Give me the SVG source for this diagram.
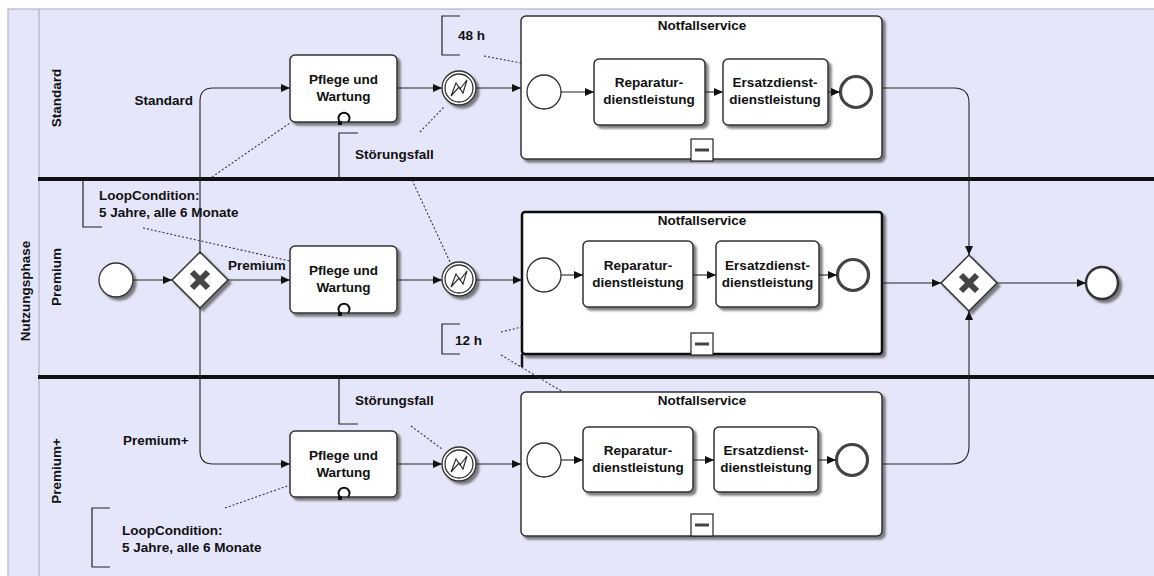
<svg xmlns="http://www.w3.org/2000/svg" width="1154" height="576" viewBox="0 0 1154 576">
<defs>
<style>
text{font-family:"Liberation Sans",Arial,sans-serif;font-weight:bold;font-size:13.5px;fill:#111}
.mid{text-anchor:middle}
.task{fill:#fff;stroke:#333;stroke-width:1.5}
.sp{fill:#fff;stroke:#333;stroke-width:1.5}
.ev{fill:#fff;stroke:#333;stroke-width:1.3}
.end{fill:#fff;stroke:#444;stroke-width:3.2}
.flow{fill:none;stroke:#222;stroke-width:1.1;marker-end:url(#ah)}
.assoc{fill:none;stroke:#333;stroke-width:1.1;stroke-dasharray:2,2}
.br{fill:none;stroke:#222;stroke-width:1.2}
.loop{fill:none;stroke:#111;stroke-width:2}
.gw{fill:#fff;stroke:#333;stroke-width:1.5}
.x{stroke:#444;stroke-width:6}
.div{stroke:#111;stroke-width:4}
</style>
<marker id="ah" viewBox="0 0 9 8" refX="9" refY="4" markerWidth="9" markerHeight="8" markerUnits="userSpaceOnUse" orient="auto"><path d="M0,0 L9,4 L0,8 z" fill="#111"/></marker>
<filter id="sh" x="-10%" y="-10%" width="130%" height="130%"><feDropShadow dx="3" dy="3" stdDeviation="0.8" flood-color="#555" flood-opacity="0.75"/></filter>
<g id="errsym"><circle r="17" class="ev"/><circle r="14" class="ev"/><path d="M-8,8 L-3,-5 L1,1 L8,-8 L4,5 L0,-1 Z" fill="#fff" stroke="#333" stroke-width="1.2"/></g>
<g id="collapse"><rect x="-11" y="-11" width="22" height="22" fill="#fff" stroke="#222" stroke-width="1.2"/><line x1="-7" y1="0" x2="7" y2="0" stroke="#444" stroke-width="3"/></g>
<g id="loopm"><path d="M-4,4 A5.5,5.5 0 1 1 4,4" class="loop"/><rect x="-6" y="3" width="4" height="4" fill="#111"/></g>
</defs>
<rect width="1154" height="576" fill="#fff"/>
<g id="pool">
<rect x="8" y="9" width="1150" height="570" fill="#E6E6FA" stroke="#A8A8B8" stroke-width="1"/>
<line x1="39" y1="9" x2="39" y2="576" stroke="#A8A8B8" stroke-width="1"/>
<text class="mid" transform="translate(30,291) rotate(-90)">Nutzungsphase</text>
</g>
<g id="lane-standard"><text class="mid" transform="translate(61,98) rotate(-90)">Standard</text></g>
<g id="lane-premium"><text class="mid" transform="translate(61,277) rotate(-90)">Premium</text></g>
<g id="lane-premiumplus"><text class="mid" transform="translate(61,471) rotate(-90)">Premium+</text></g>

<g id="annotations">
<g id="ann-48h"><path class="br" d="M460,16 H442 V55 H460"/><text x="458" y="40">48 h</text></g>
<g id="ann-stoer1"><path class="br" d="M358,133 H339 V178"/><text x="355" y="159">Störungsfall</text></g>
<g id="ann-loop1"><path class="br" d="M102,178 H83 V227 H102"/><text x="99" y="200">LoopCondition:</text><text x="99" y="217">5 Jahre, alle 6 Monate</text></g>
<g id="ann-12h"><path class="br" d="M460,324 H442 V354 H460"/><text x="455" y="345">12 h</text></g>
<g id="ann-stoer2"><path class="br" d="M339,378 V424 H358"/><text x="355" y="405">Störungsfall</text></g>
<g id="ann-loop2"><path class="br" d="M110,508 H92 V567 H110"/><text x="122" y="535">LoopCondition:</text><text x="122" y="552">5 Jahre, alle 6 Monate</text></g>
</g>

<g id="dividers">
<line class="div" x1="38" y1="179" x2="1154" y2="179"/>
<line class="div" x1="38" y1="377" x2="1154" y2="377"/>
</g>

<g id="start"><circle cx="116" cy="280" r="17" class="ev" filter="url(#sh)"/></g>
<g id="gateway-split"><polygon class="gw" points="200,252 228,280 200,308 172,280" filter="url(#sh)"/><line class="x" x1="192" y1="272" x2="208" y2="288"/><line class="x" x1="192" y1="288" x2="208" y2="272"/></g>
<text x="193" y="105" text-anchor="end">Standard</text>
<text x="228" y="270">Premium</text>
<text x="123" y="445">Premium+</text>

<g id="task-pflege1"><rect class="task" x="290" y="55" width="107" height="67" rx="5" filter="url(#sh)"/><text class="mid" x="343.5" y="84">Pflege und</text><text class="mid" x="343.5" y="101">Wartung</text><use href="#loopm" x="344" y="118"/></g>
<g id="task-pflege2"><rect class="task" x="290" y="246" width="107" height="67" rx="5" filter="url(#sh)"/><text class="mid" x="343.5" y="275">Pflege und</text><text class="mid" x="343.5" y="292">Wartung</text><use href="#loopm" x="344" y="309"/></g>
<g id="task-pflege3"><rect class="task" x="290" y="431" width="107" height="66" rx="5" filter="url(#sh)"/><text class="mid" x="343.5" y="460">Pflege und</text><text class="mid" x="343.5" y="477">Wartung</text><use href="#loopm" x="344" y="493"/></g>

<g id="event-stoer1" filter="url(#sh)"><use href="#errsym" x="459" y="88"/></g>
<g id="event-stoer2" filter="url(#sh)"><use href="#errsym" x="459" y="279"/></g>
<g id="event-stoer3" filter="url(#sh)"><use href="#errsym" x="459" y="464"/></g>

<g id="sp-notfall1">
<rect class="sp" x="521" y="16" width="361" height="143" rx="5" filter="url(#sh)"/>
<text class="mid" x="702" y="30">Notfallservice</text>
<circle cx="544" cy="92" r="17" class="ev"/>
<rect class="task" x="594" y="59" width="111" height="66" rx="5" filter="url(#sh)"/>
<text class="mid" x="649" y="87">Reparatur-</text><text class="mid" x="649" y="104">dienstleistung</text>
<rect class="task" x="723" y="59" width="105" height="66" rx="5" filter="url(#sh)"/>
<text class="mid" x="775" y="87">Ersatzdienst-</text><text class="mid" x="775" y="104">dienstleistung</text>
<circle cx="856" cy="92" r="15.5" class="end"/>
<use href="#collapse" x="702" y="150"/>
</g>

<g id="sp-notfall2">
<rect x="522" y="212" width="360" height="142" rx="3" fill="#fff" stroke="#111" stroke-width="2.5" filter="url(#sh)"/>
<line x1="522" y1="354" x2="522" y2="367" stroke="#111" stroke-width="2.5"/>
<text class="mid" x="702" y="225">Notfallservice</text>
<circle cx="544" cy="275" r="17" class="ev"/>
<rect class="task" x="583" y="241" width="110" height="66" rx="5" filter="url(#sh)"/>
<text class="mid" x="638" y="270">Reparatur-</text><text class="mid" x="638" y="287">dienstleistung</text>
<rect class="task" x="716" y="241" width="103" height="66" rx="5" filter="url(#sh)"/>
<text class="mid" x="767.5" y="270">Ersatzdienst-</text><text class="mid" x="767.5" y="287">dienstleistung</text>
<circle cx="853" cy="275" r="15.5" class="end"/>
<use href="#collapse" x="702" y="344"/>
</g>

<g id="sp-notfall3">
<rect class="sp" x="521" y="392" width="361" height="144" rx="5" filter="url(#sh)"/>
<text class="mid" x="702" y="405">Notfallservice</text>
<circle cx="544" cy="460" r="17" class="ev"/>
<rect class="task" x="583" y="427" width="110" height="65" rx="5" filter="url(#sh)"/>
<text class="mid" x="638" y="455">Reparatur-</text><text class="mid" x="638" y="472">dienstleistung</text>
<rect class="task" x="714" y="427" width="104" height="65" rx="5" filter="url(#sh)"/>
<text class="mid" x="766" y="455">Ersatzdienst-</text><text class="mid" x="766" y="472">dienstleistung</text>
<circle cx="852" cy="460" r="15.5" class="end"/>
<use href="#collapse" x="702" y="525"/>
</g>

<g id="gateway-join"><polygon class="gw" points="969,255 997,283 969,311 941,283" filter="url(#sh)"/><line class="x" x1="961" y1="275" x2="977" y2="291"/><line class="x" x1="961" y1="291" x2="977" y2="275"/></g>
<g id="end"><circle cx="1102" cy="283" r="16" fill="#fff" stroke="#333" stroke-width="2.5" filter="url(#sh)"/></g>

<g id="connectors">
<path class="flow" d="M133,280 H172"/>
<path class="flow" d="M200,252 V101 Q200,88 213,88 H290"/>
<path class="flow" d="M228,280 H290"/>
<path class="flow" d="M200,308 V451 Q200,464 213,464 H290"/>
<path class="flow" d="M397,88 H442"/>
<path class="flow" d="M476,88 H521"/>
<path class="flow" d="M561,92 H594"/>
<path class="flow" d="M705,92 H723"/>
<path class="flow" d="M828,92 H840"/>
<path class="flow" d="M882,88 H954 Q969,88 969,103 V255"/>
<path class="flow" d="M397,280 H442"/>
<path class="flow" d="M476,280 H522"/>
<path class="flow" d="M561,275 H583"/>
<path class="flow" d="M693,275 H716"/>
<path class="flow" d="M819,275 H837"/>
<path class="flow" d="M882,283 H941"/>
<path class="flow" d="M997,283 H1086"/>
<path class="flow" d="M397,464 H442"/>
<path class="flow" d="M476,464 H521"/>
<path class="flow" d="M561,460 H583"/>
<path class="flow" d="M693,460 H714"/>
<path class="flow" d="M818,460 H836"/>
<path class="flow" d="M882,464 H951 Q969,464 969,446 V311"/>
<path class="assoc" d="M484,56 L521,63"/>
<path class="assoc" d="M420,132 L444,107"/>
<path class="assoc" d="M412,180 L450,262"/>
<path class="assoc" d="M212,177 L290,123"/>
<path class="assoc" d="M143,228 L290,261"/>
<path class="assoc" d="M501,332 L522,327"/>
<path class="assoc" d="M501,355 L563,392"/>
<path class="assoc" d="M411,426 L442,449"/>
<path class="assoc" d="M225,508 L290,485"/>
</g>
</svg>
